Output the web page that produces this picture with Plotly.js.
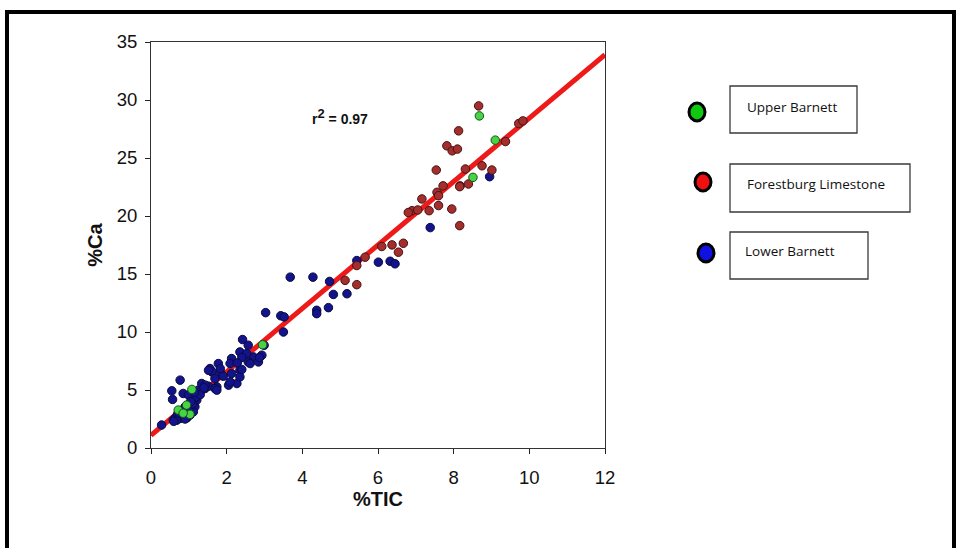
<!DOCTYPE html>
<html>
<head>
<meta charset="utf-8">
<script src="https://cdn.plot.ly/plotly-3.0.1.min.js"></script>
<style>
html,body{margin:0;padding:0;background:#fff;}
#chart{width:960px;height:548px;}
</style>
</head>
<body>
<div id="chart"></div>
<script>
// Lower Barnett
const lowerX = [0.28,0.55,0.57,0.77,0.85,0.99,1.25,1.21,1.16,1.12,1.03,0.85,0.77,0.59,0.94,0.90,
  0.65,0.70,0.80,0.95,1.00,1.10,1.20,1.30,0.68,0.90,1.05,1.15,0.60,0.75,
  1.34,1.43,1.52,1.74,1.87,2.05,2.27,2.13,1.56,1.61,1.83,1.78,2.35,2.35,2.13,2.09,2.71,2.57,2.84,2.93,2.35,2.53,2.42,2.57,2.99,3.50,3.03,3.43,3.52,
  1.52,1.69,1.91,2.09,1.43,1.69,1.74,2.40,2.28,2.62,2.87,2.40,1.83,1.40,
  3.68,4.28,4.72,4.82,5.18,4.69,4.38,4.38,5.44,6.01,6.32,6.45,7.38,8.95];
const lowerY = [1.98,4.93,4.19,5.85,4.70,4.56,4.99,4.13,3.55,3.12,2.84,2.84,2.55,2.41,3.12,3.55,
  2.60,2.90,3.20,2.60,3.30,3.80,4.40,4.60,2.40,2.50,4.00,4.80,2.30,3.00,
  5.56,5.13,5.33,5.27,6.28,5.42,5.56,6.42,6.85,6.56,6.56,7.28,6.70,6.13,7.71,7.28,7.85,7.42,7.42,8.00,8.28,8.14,9.35,8.86,8.86,10.00,11.67,11.40,11.30,
  6.70,5.99,6.19,5.70,5.42,5.13,4.99,7.80,7.33,7.28,7.80,6.77,6.85,5.20,
  14.73,14.73,14.36,13.24,13.30,12.10,11.87,11.58,16.16,16.02,16.10,15.88,19.00,23.39];
// Forestburg Limestone
const forestX = [5.66,5.44,5.13,5.44,6.67,6.37,6.10,6.54,7.54,7.72,7.56,7.60,8.17,7.16,6.90,7.05,7.35,7.60,7.95,8.16,
  8.66,8.13,7.82,7.96,8.10,9.72,9.83,9.37,8.31,8.75,9.01,8.16,8.39,6.80];
const forestY = [16.45,15.73,14.45,14.08,17.65,17.51,17.37,16.88,23.96,22.60,22.04,21.75,22.60,21.47,20.46,20.52,20.46,20.90,20.60,19.17,
  29.49,27.34,26.05,25.62,25.77,27.97,28.20,26.42,24.05,24.33,23.96,22.53,22.76,20.30];
// Upper Barnett
const upperX = [1.08,0.72,0.94,1.03,0.85,2.95,8.68,9.10,8.51];
const upperY = [5.05,3.27,3.70,2.90,3.00,8.90,28.63,26.54,23.33];
// regression line
const fitX = [0, 12];
const fitY = [1.1, 33.9];
const xTicks = [0,2,4,6,8,10,12];
const yTicks = [0,5,10,15,20,25,30,35];
const legendNames = ["Upper Barnett","Forestburg Limestone","Lower Barnett"];
const r2Text = "r<sup><span style='font-size:13px'>2</span></sup> = 0.97";

// pixel -> paper helpers (plot area 151..605 x, 42..448 y)
const L=151,R=605,T=42,B=448;
const px = p => (p-L)/(R-L);
const py = p => (B-p)/(B-T);

const narrow = "Liberation Sans Narrow, Arial Narrow, Liberation Sans, Arial, sans-serif";

const traces = [
  {x: fitX, y: fitY, mode:'lines', line:{color:'#ee1a1a', width:5}, showlegend:false, hoverinfo:'skip'},
  {x: lowerX, y: lowerY, mode:'markers', name:legendNames[2], showlegend:false,
   marker:{size:8.5, color:'#13138c', line:{color:'#0a0a40', width:1}}},
  {x: forestX, y: forestY, mode:'markers', name:legendNames[1], showlegend:false,
   marker:{size:8.5, color:'#a32e2e', line:{color:'#4a1010', width:1}}},
  {x: upperX, y: upperY, mode:'markers', name:legendNames[0], showlegend:false,
   marker:{size:8.5, color:'#44d444', line:{color:'#1d4d1d', width:1}}}
];

const boxes = [[730,86,857,133],[730,164,910,212],[730,232,868,279]];
const circles = [[697,112,'#10c810'],[703,182,'#f01010'],[706,253,'#1010e0']];
const textPos = [[745,107],[745,184],[743,251]];

const shapes = [];
boxes.forEach(b=>shapes.push({type:'rect', xref:'paper', yref:'paper', x0:px(b[0]), x1:px(b[2]), y0:py(b[3]), y1:py(b[1]), line:{color:'#3a3a3a', width:1.3}, fillcolor:'rgba(0,0,0,0)'}));
circles.forEach(c=>shapes.push({type:'circle', xref:'paper', yref:'paper', xsizemode:'pixel', ysizemode:'pixel', xanchor:px(c[0]), yanchor:py(c[1]), x0:-8, x1:8, y0:-9, y1:9, fillcolor:c[2], line:{color:'#000', width:3}}));
// outer frame
shapes.push({type:'rect', xref:'paper', yref:'paper', x0:px(7), x1:px(954), y0:py(560), y1:py(12), line:{color:'#000', width:4}, fillcolor:'rgba(0,0,0,0)'});

const annotations = legendNames.map((n,i)=>({xref:'paper', yref:'paper', x:px(textPos[i][0]), y:py(textPos[i][1]), xanchor:'left', yanchor:'middle', text:n, showarrow:false, font:{family:'Open Sans, sans-serif', size:13.5, color:'#111'}}));
annotations.push({x:5.0, y:28.6, xref:'x', yref:'y', text:'<b>'+r2Text+'</b>', showarrow:false, font:{family:narrow, size:14, color:'#111'}});

const layout = {
  width:960, height:548,
  margin:{l:L, r:960-R, t:T, b:548-B, pad:0},
  paper_bgcolor:'#fff', plot_bgcolor:'#fff',
  showlegend:false,
  xaxis:{range:[0,12], tickvals:xTicks, ticks:'outside', ticklen:5, tickcolor:'#222', showgrid:false, zeroline:false,
    showline:true, linecolor:'#333', linewidth:1, mirror:true, ticklabelstandoff:8,
    tickfont:{family:narrow, size:18.5, color:'#111'},
    title:{text:'<b>%TIC</b>', font:{family:narrow, size:20, color:'#111'}, standoff:2}},
  yaxis:{range:[0,35], tickvals:yTicks, ticks:'outside', ticklen:5, tickcolor:'#222', showgrid:false, zeroline:false,
    showline:true, linecolor:'#333', linewidth:1, mirror:true, ticklabelstandoff:4,
    tickfont:{family:narrow, size:18.5, color:'#111'},
    title:{text:'<b>%Ca</b>', font:{family:narrow, size:20, color:'#111'}, standoff:8}},
  shapes: shapes,
  annotations: annotations
};
Plotly.newPlot('chart', traces, layout, {staticPlot:true, displayModeBar:false});
</script>
</body>
</html>
